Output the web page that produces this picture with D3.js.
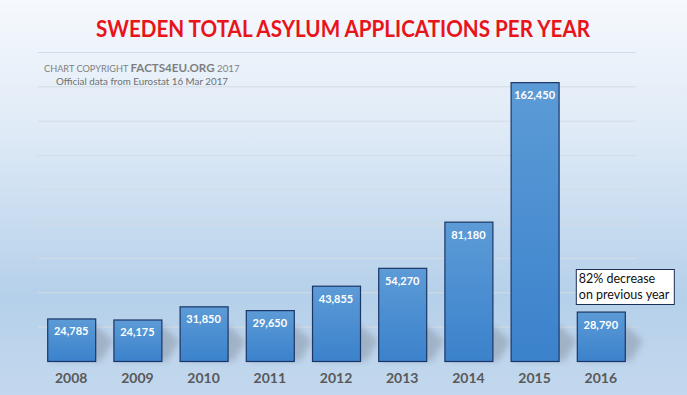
<!DOCTYPE html>
<html>
<head>
<meta charset="utf-8">
<script src="https://cdn.jsdelivr.net/npm/d3@7"></script>
<style>
  body { margin: 0; padding: 0; overflow: hidden; }
  svg { display: block; }
</style>
</head>
<body>
<div id="chart"></div>
<script>
// data
var years = ["2008", "2009", "2010", "2011", "2012", "2013", "2014", "2015", "2016"];
var applications = [24785, 24175, 31850, 29650, 43855, 54270, 81180, 162450, 28790];
var gridTicks = [0, 20000, 40000, 60000, 80000, 100000, 120000, 140000, 160000, 180000];
var titleText = "SWEDEN TOTAL ASYLUM APPLICATIONS PER YEAR";
var noteLines = ["82% decrease", "on previous year"];

var width = 687, height = 395;

var svg = d3.select("#chart").append("svg")
    .attr("width", width)
    .attr("height", height);

var defs = svg.append("defs");

// background gradient
var bg = defs.append("linearGradient").attr("id", "bg")
    .attr("x1", 0).attr("y1", 0).attr("x2", 0).attr("y2", 1);
bg.append("stop").attr("offset", "0%").attr("stop-color", "#f6f9fd");
bg.append("stop").attr("offset", "35%").attr("stop-color", "#dde9f6");
bg.append("stop").attr("offset", "75%").attr("stop-color", "#b5d0ea");
bg.append("stop").attr("offset", "100%").attr("stop-color", "#c3d8ee");

// bar gradient
var barGrad = defs.append("linearGradient").attr("id", "barGrad")
    .attr("x1", 0).attr("y1", 0).attr("x2", 0).attr("y2", 1);
barGrad.append("stop").attr("offset", "0%").attr("stop-color", "#5c9bd6");
barGrad.append("stop").attr("offset", "100%").attr("stop-color", "#3b82cc");

var shadowBlur = defs.append("filter").attr("id", "blur")
    .attr("x", "-20%").attr("y", "-50%").attr("width", "140%").attr("height", "200%");
shadowBlur.append("feGaussianBlur").attr("stdDeviation", 3);

svg.append("rect")
    .attr("width", width).attr("height", height)
    .attr("fill", "url(#bg)");

// scales
var xScale = d3.scaleBand()
    .domain(years)
    .range([38, 634])
    .paddingInner(0.275)
    .paddingOuter(0.139);

var yScale = d3.scaleLinear()
    .domain([0, 180000])
    .range([361, 52]);

// gridlines
svg.append("g")
    .selectAll("line")
    .data(gridTicks.slice(1))
    .enter().append("line")
    .attr("x1", 38).attr("x2", 636)
    .attr("y1", function(d) { return yScale(d) + 0.5; })
    .attr("y2", function(d) { return yScale(d) + 0.5; })
    .attr("stroke", "#d3dbe4")
    .attr("stroke-width", 1);

// title
svg.append("text")
    .attr("x", 343)
    .attr("y", 37)
    .attr("text-anchor", "middle")
    .attr("font-family", "Lato, 'Open Sans', sans-serif")
    .attr("font-weight", "bold")
    .attr("font-size", 23)
    .attr("fill", "#e8141a")
    .attr("textLength", 494)
    .attr("lengthAdjust", "spacingAndGlyphs")
    .text(titleText);

// copyright
var copy = svg.append("text")
    .attr("x", 44)
    .attr("y", 72)
    .attr("font-family", "Lato, 'Open Sans', sans-serif")
    .attr("fill", "#7f7f7f");
copy.append("tspan").attr("font-size", 9.2).text("CHART COPYRIGHT ");
copy.append("tspan").attr("font-size", 11.6).attr("font-weight", "bold").text("FACTS4EU.ORG");
copy.append("tspan").attr("font-size", 9.7).text(" 2017");

svg.append("text")
    .attr("x", 56)
    .attr("y", 85)
    .attr("font-family", "Lato, 'Open Sans', sans-serif")
    .attr("font-size", 9.8)
    .attr("fill", "#6f6f6f")
    .text("Official data from Eurostat 16 Mar 2017");

// bar shadows
svg.append("g")
    .selectAll("path")
    .data(applications)
    .enter().append("path")
    .attr("d", function(d, i) {
      var x0 = xScale(years[i]), bw = xScale.bandwidth(), y0 = yScale(0);
      var h = Math.min(y0 - yScale(d), 40);
      return "M" + (x0 + 2) + "," + y0 +
        "L" + (x0 + bw) + "," + (y0 - h * 0.9) +
        "L" + (x0 + bw + 18) + "," + (y0 - h * 0.5) +
        "L" + (x0 + bw + 6) + "," + y0 + "Z";
    })
    .attr("fill", "#7f8a99")
    .attr("opacity", 0.45)
    .attr("filter", "url(#blur)");

// bars
svg.append("g")
    .selectAll("rect")
    .data(applications)
    .enter().append("rect")
    .attr("x", function(d, i) { return xScale(years[i]) + 0.5; })
    .attr("y", function(d) { return yScale(d) + 0.5; })
    .attr("width", xScale.bandwidth())
    .attr("height", function(d) { return yScale(0) - yScale(d); })
    .attr("fill", "url(#barGrad)")
    .attr("stroke", "#1c3565")
    .attr("stroke-width", 1.2);

// value labels
svg.append("g")
    .selectAll("text")
    .data(applications)
    .enter().append("text")
    .attr("x", function(d, i) { return xScale(years[i]) + xScale.bandwidth() / 2; })
    .attr("y", function(d) { return yScale(d) + 17; })
    .attr("text-anchor", "middle")
    .attr("font-family", "Lato, 'Open Sans', sans-serif")
    .attr("font-weight", "bold")
    .attr("font-size", 11)
    .attr("fill", "#ffffff")
    .text(function(d) { return d3.format(",")(d); });

// year axis
var xAxis = svg.append("g")
    .attr("transform", "translate(0,361)")
    .call(d3.axisBottom(xScale).tickSize(0).tickPadding(12));
xAxis.select(".domain").remove();
xAxis.selectAll("text")
    .attr("font-family", "Lato, 'Open Sans', sans-serif")
    .attr("font-weight", "bold")
    .attr("font-size", 14)
    .attr("fill", "#595959");

// note box
var noteX = xScale("2016") - 1, noteY = 269;
svg.append("rect")
    .attr("x", noteX + 0.5).attr("y", noteY + 0.5)
    .attr("width", 98).attr("height", 35)
    .attr("fill", "#ffffff")
    .attr("stroke", "#1c2f55")
    .attr("stroke-width", 1);

svg.append("g")
    .selectAll("text")
    .data(noteLines)
    .enter().append("text")
    .attr("x", noteX + 3)
    .attr("y", function(d, i) { return noteY + 14 + i * 16; })
    .attr("font-family", "Lato, 'Open Sans', sans-serif")
    .attr("font-size", 12.5)
    .attr("fill", "#111111")
    .text(function(d) { return d; });
</script>
</body>
</html>
